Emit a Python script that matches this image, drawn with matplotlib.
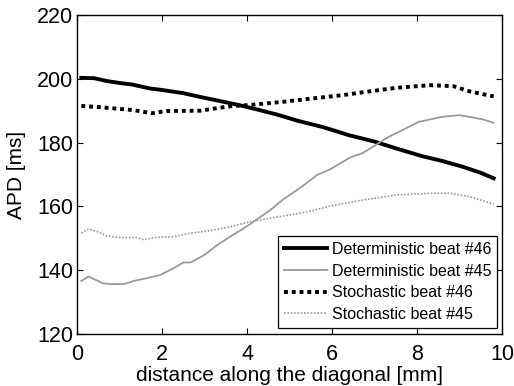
import matplotlib
matplotlib.use("Agg")
import matplotlib.pyplot as plt

plt.rcParams['font.family'] = ['Liberation Sans', 'DejaVu Sans']

# Deterministic beat #46
x_det46 = [0.1, 0.4, 0.7, 1.0, 1.3, 1.7, 2.0, 2.5, 2.9, 3.3, 3.8, 4.2, 4.7,
           5.2, 5.8, 6.4, 7.0, 7.5, 8.1, 8.6, 9.1, 9.5, 9.8]
apd_det46 = [200.3, 200.2, 199.3, 198.7, 198.2, 197.0, 196.5, 195.5, 194.3,
             193.2, 191.8, 190.5, 188.8, 186.8, 184.8, 182.3, 180.3, 178.2,
             175.8, 174.2, 172.3, 170.5, 168.8]

# Deterministic beat #45
x_det45 = [0.1, 0.27, 0.6, 0.8, 1.1, 1.33, 1.65, 1.96, 2.27, 2.5, 2.67, 3.0,
           3.3, 3.6, 3.92, 4.24, 4.55, 4.85, 5.3, 5.64, 5.95, 6.42, 6.73,
           7.33, 8.04, 8.6, 9.0, 9.54, 9.8]
apd_det45 = [136.6, 138.0, 135.9, 135.6, 135.6, 136.6, 137.5, 138.5, 140.6,
             142.4, 142.4, 144.8, 147.9, 150.5, 153.1, 156.0, 158.9, 162.2,
             166.3, 169.8, 171.6, 175.3, 176.8, 181.8, 186.5, 188.1, 188.6,
             187.3, 186.2]

# Stochastic beat #46
x_sto46 = [0.1, 0.54, 1.32, 1.76, 2.1, 2.9, 3.29, 3.67, 4.07, 4.85, 5.64,
           6.26, 6.73, 7.52, 8.3, 8.85, 9.25, 9.8]
apd_sto46 = [191.5, 191.1, 190.2, 189.2, 189.9, 190.0, 190.8, 191.5, 191.8,
             192.8, 194.0, 194.9, 195.8, 197.2, 198.0, 197.7, 196.0, 194.5]

# Stochastic beat #45
x_sto45 = [0.1, 0.27, 0.47, 0.7, 1.02, 1.41, 1.57, 1.8, 2.27, 2.67, 3.14,
           3.6, 4.08, 4.55, 5.0, 5.5, 5.95, 6.73, 7.52, 8.3, 8.77, 9.25, 9.8]
apd_sto45 = [151.6, 152.9, 152.1, 150.7, 150.2, 150.2, 149.5, 150.2, 150.5,
             151.6, 152.4, 153.6, 155.2, 156.3, 157.3, 158.5, 160.1, 162.0,
             163.6, 164.1, 164.1, 163.0, 160.7]

x_ticks = [0, 2, 4, 6, 8, 10]
y_ticks = [120, 140, 160, 180, 200, 220]

fig = plt.figure(figsize=(5.14, 3.86), dpi=100)
ax = fig.add_axes([0.150, 0.135, 0.827, 0.826])

ax.plot(x_det46, apd_det46, color='black', lw=2.8, solid_joinstyle='miter',
        label='Deterministic beat #46')
ax.plot(x_det45, apd_det45, color='#999999', lw=1.3,
        label='Deterministic beat #45')
ax.plot(x_sto46, apd_sto46, color='black', lw=2.8, linestyle=(0, (1.0, 1.0)),
        dash_capstyle='butt', label='Stochastic beat #46')
ax.plot(x_sto45, apd_sto45, color='#999999', lw=1.2, linestyle=(0, (1.0, 1.0)),
        dash_capstyle='butt', label='Stochastic beat #45')

ax.set_xlim(0, 10)
ax.set_ylim(120, 220)
ax.set_xticks(x_ticks)
ax.set_yticks(y_ticks)
ax.tick_params(direction='in', top=True, right=True, labelsize=15.5,
               length=4, width=0.8)
ax.tick_params(axis='x', pad=7)
ax.tick_params(axis='y', pad=3)
for s in ax.spines.values():
    s.set_linewidth(1.0)

ax.set_xlabel('distance along the diagonal [mm]', fontsize=15, labelpad=1)
ax.set_ylabel('APD [ms]', fontsize=15)
ax.yaxis.set_label_coords(-0.12, 0.5)

leg = ax.legend(loc='lower right', fontsize=11.5, frameon=True, fancybox=False,
                edgecolor='black', framealpha=1, borderpad=0.35,
                labelspacing=0.42, handlelength=2.7, handletextpad=0.3,
                borderaxespad=0.2, bbox_to_anchor=(0.995, 0.01))
leg.get_frame().set_linewidth(0.9)

fig.savefig('out.png', dpi=100)
